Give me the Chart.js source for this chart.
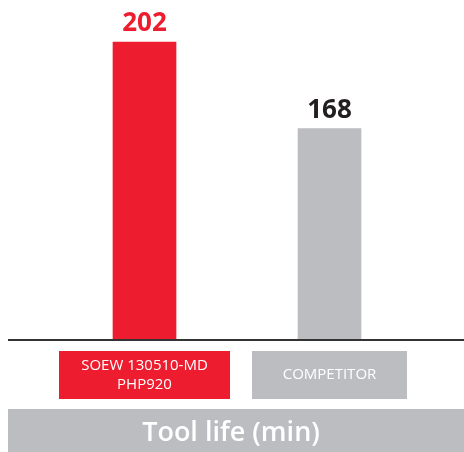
<!DOCTYPE html>
<html><head><meta charset="utf-8">
<script src="https://cdn.jsdelivr.net/npm/chart.js@4/dist/chart.umd.min.js"></script>
<style>html,body{margin:0;padding:0;background:#fff}#wrap{width:464px;height:452px}</style>
</head><body><div id="wrap"><canvas id="c" width="464" height="452"></canvas></div>
<script>
const categories = [["SOEW 130510-MD","PHP920"],["COMPETITOR"]];
const toolLife = [202, 168];
const barColors = ["#ed1c2e", "#bcbdc0"];
const valueColors = ["#ed1c2e", "#231f20"];
const boxWidths = [171, 155];
const axisTitle = "Tool life (min)";

const deco = {
  id: 'deco',
  afterDatasetsDraw(chart) {
    const ctx = chart.ctx;
    const meta = chart.getDatasetMeta(0);
    const area = chart.chartArea;
    ctx.save();
    // baseline
    ctx.fillStyle = '#333333';
    ctx.fillRect(8, area.bottom - 1, 456, 2);
    // value labels
    ctx.textAlign = 'center';
    ctx.textBaseline = 'alphabetic';
    ctx.font = 'bold 26px "Open Sans"';
    meta.data.forEach((bar, i) => {
      ctx.fillStyle = valueColors[i];
      ctx.fillText(String(toolLife[i]), bar.x, bar.y - 11);
    });
    // category boxes
    ctx.font = '15px "Open Sans"';
    meta.data.forEach((bar, i) => {
      const w = boxWidths[i];
      ctx.fillStyle = barColors[i];
      ctx.fillRect(Math.round(bar.x - w / 2), 351, w, 48);
      ctx.fillStyle = '#ffffff';
      const lines = categories[i];
      const lh = 19;
      const y0 = 375 - (lines.length - 1) * lh / 2;
      ctx.textBaseline = 'middle';
      lines.forEach((t, j) => ctx.fillText(t, bar.x, y0 + j * lh));
    });
    // title band
    ctx.fillStyle = '#bcbdc0';
    ctx.fillRect(8, 409, 456, 43);
    ctx.fillStyle = '#ffffff';
    ctx.font = '600 27px "Open Sans"';
    ctx.textBaseline = 'alphabetic';
    ctx.fillText(axisTitle, 231, 441);
    ctx.restore();
  }
};

new Chart(document.getElementById('c'), {
  type: 'bar',
  data: {
    labels: categories,
    datasets: [{
      data: toolLife,
      backgroundColor: barColors,
      barThickness: 63,
      borderWidth: 0
    }]
  },
  options: {
    responsive: false,
    animation: false,
    layout: { padding: { left: 52, right: 42, top: 0, bottom: 112 } },
    plugins: { legend: { display: false }, tooltip: { enabled: false } },
    scales: {
      x: { display: false },
      y: { display: false, min: 85, max: 218.5 }
    }
  },
  plugins: [deco]
});
</script>
</body></html>
